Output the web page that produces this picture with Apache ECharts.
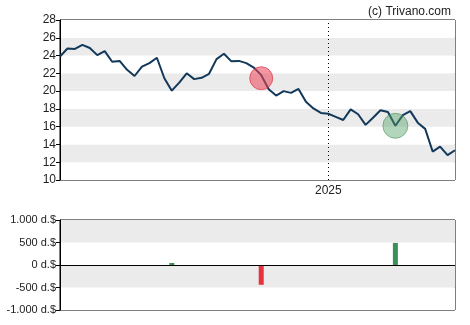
<!DOCTYPE html>
<html><head><meta charset="utf-8">
<script src="https://cdn.jsdelivr.net/npm/echarts@6/dist/echarts.min.js"></script>
<style>html,body{margin:0;padding:0;background:#fff}#c{width:470px;height:325px}</style>
</head><body><div id="c"></div>
<script>
var dates = ["2024-04-26","2024-05-03","2024-05-10","2024-05-17","2024-05-24","2024-05-31","2024-06-07","2024-06-14","2024-06-21","2024-06-28",
"2024-07-05","2024-07-12","2024-07-19","2024-07-26","2024-08-02","2024-08-09","2024-08-16","2024-08-23","2024-08-30","2024-09-06",
"2024-09-13","2024-09-20","2024-09-27","2024-10-04","2024-10-11","2024-10-18","2024-10-25","2024-11-01","2024-11-08","2024-11-15",
"2024-11-22","2024-11-29","2024-12-06","2024-12-13","2024-12-20","2024-12-27","2025-01-03","2025-01-10","2025-01-17","2025-01-24",
"2025-01-31","2025-02-07","2025-02-14","2025-02-21","2025-02-28","2025-03-07","2025-03-14","2025-03-21","2025-03-28","2025-04-04",
"2025-04-11","2025-04-18","2025-04-25","2025-05-02"];
var prices = [23.9,24.8,24.75,25.2,24.85,24.05,24.5,23.3,23.4,22.4,
21.7,22.75,23.15,23.75,21.45,20.05,20.95,22.0,21.35,21.5,
21.95,23.6,24.2,23.35,23.4,23.15,22.65,21.8,20.2,19.5,
20.0,19.8,20.25,18.8,18.05,17.55,17.45,17.1,16.75,17.95,
17.4,16.2,17.0,17.85,17.65,16.1,17.3,17.75,16.45,15.75,
13.2,13.75,12.8,13.35];
var sellMarker = [27, 21.45];
var buyMarker = [45, 16.1];
var flowIdx = [15, 27, 45];
var flowVals = [45, -440, 490];
var yTicks = [10,12,14,16,18,20,22,24,26,28];
var flowTicks = ["-1.000 d.$","-500 d.$","0 d.$","500 d.$","1.000 d.$"];

var flowData = dates.map(function(){return null;});
flowIdx.forEach(function(i,k){
  flowData[i] = {value: flowVals[k], itemStyle:{color: flowVals[k] >= 0 ? '#3a9158' : '#e8333f'}};
});
var FONT = 'Liberation Sans, Arial, sans-serif';
var chart = echarts.init(document.getElementById('c'), null, {renderer:'canvas'});
chart.setOption({
  animation:false,
  backgroundColor:'#ffffff',
  title:{text:'(c) Trivano.com', right:14, top:1, textStyle:{fontSize:12, fontWeight:'normal', color:'#222', fontFamily:FONT}},
  grid:[{left:60, right:15, top:20, height:160, show:true, borderColor:'#000', borderWidth:1, backgroundColor:'transparent'},
        {left:60, right:15, top:220, height:90, show:true, borderColor:'#000', borderWidth:1, backgroundColor:'transparent'}],
  xAxis:[{type:'category', gridIndex:0, data:dates, boundaryGap:false,
          axisLine:{show:false}, axisTick:{show:false}, splitLine:{show:false},
          axisLabel:{interval:function(i){return i===36;}, formatter:function(v){return v.slice(0,4);}, color:'#222', fontSize:12, fontFamily:FONT, margin:5}},
         {type:'category', gridIndex:1, data:dates, boundaryGap:false,
          axisLine:{show:false}, axisTick:{show:false}, axisLabel:{show:false}, splitLine:{show:false}}],
  yAxis:[{type:'value', gridIndex:0, min:yTicks[0], max:yTicks[yTicks.length-1], interval:2,
          axisLine:{show:true, lineStyle:{color:'#000'}}, axisTick:{show:true, length:4, lineStyle:{color:'#000'}},
          axisLabel:{color:'#222', fontSize:12, fontFamily:FONT, margin:4},
          splitLine:{show:false}, splitArea:{show:true, areaStyle:{color:['#ffffff','#ebebeb']}}},
         {type:'value', gridIndex:1, min:-1000, max:1000, interval:500,
          axisLine:{show:true, lineStyle:{color:'#000'}}, axisTick:{show:true, length:4, lineStyle:{color:'#000'}},
          axisLabel:{color:'#222', fontSize:11, fontFamily:FONT, margin:4, formatter:function(v){return flowTicks[(v+1000)/500];}},
          splitLine:{show:false}, splitArea:{show:true, areaStyle:{color:['#ffffff','#ebebeb']}}}],
  series:[
    {type:'line', xAxisIndex:0, yAxisIndex:0, data:prices, symbol:'none', lineStyle:{color:'#12385a', width:2}, z:3,
     markLine:{silent:true, symbol:['none','none'], label:{show:false}, lineStyle:{color:'#000', type:[1,3], width:1},
               data:[{xAxis:36}]}},
    {type:'scatter', xAxisIndex:0, yAxisIndex:0, z:4, symbolSize:23,
     data:[sellMarker], itemStyle:{color:'rgba(236,70,90,0.7)', borderColor:'rgba(220,40,60,0.8)', borderWidth:1}},
    {type:'scatter', xAxisIndex:0, yAxisIndex:0, z:4, symbolSize:25,
     data:[buyMarker], itemStyle:{color:'rgba(80,160,100,0.55)', borderColor:'rgba(60,140,80,0.7)', borderWidth:1}},
    {type:'bar', xAxisIndex:1, yAxisIndex:1, data:flowData, barWidth:5,
     markLine:{silent:true, symbol:['none','none'], label:{show:false}, lineStyle:{color:'#000', type:'solid', width:1}, data:[{yAxis:0}]}}
  ]
});
</script></body></html>
